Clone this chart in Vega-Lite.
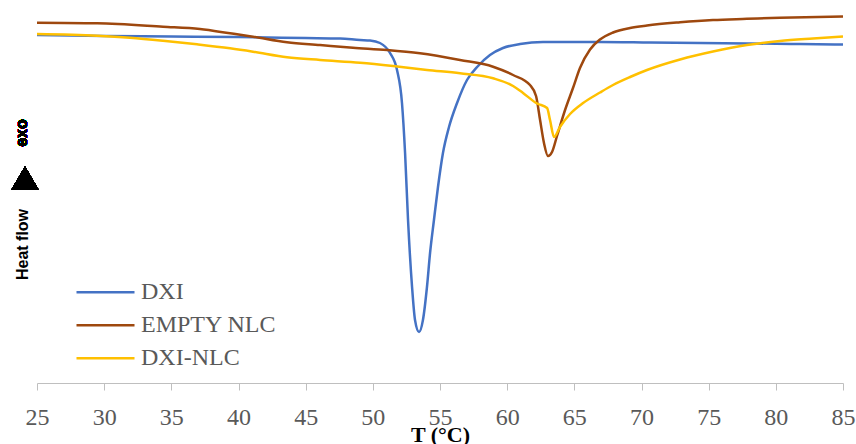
{
  "$schema": "https://vega.github.io/schema/vega-lite/v6.json",
  "width": 806,
  "height": 373,
  "autosize": {"type": "none"},
  "padding": {"left": 37, "top": 10, "right": 13, "bottom": 61},
  "background": "white",
  "config": {"view": {"stroke": null}},
  "data": {"values": [
    {"series": "DXI", "T": 25, "v": 348},
    {"series": "DXI", "T": 30, "v": 347},
    {"series": "DXI", "T": 35, "v": 346.5},
    {"series": "DXI", "T": 40, "v": 346},
    {"series": "DXI", "T": 45, "v": 345},
    {"series": "DXI", "T": 47.56, "v": 344.5},
    {"series": "DXI", "T": 49.05, "v": 343},
    {"series": "DXI", "T": 49.79, "v": 342.5},
    {"series": "DXI", "T": 50.53, "v": 340},
    {"series": "DXI", "T": 51.28, "v": 330},
    {"series": "DXI", "T": 51.8, "v": 313},
    {"series": "DXI", "T": 52.17, "v": 280},
    {"series": "DXI", "T": 52.4, "v": 230},
    {"series": "DXI", "T": 52.62, "v": 163},
    {"series": "DXI", "T": 52.92, "v": 96},
    {"series": "DXI", "T": 53.14, "v": 63},
    {"series": "DXI", "T": 53.44, "v": 51},
    {"series": "DXI", "T": 53.73, "v": 63},
    {"series": "DXI", "T": 54.03, "v": 96},
    {"series": "DXI", "T": 54.26, "v": 130},
    {"series": "DXI", "T": 54.55, "v": 163},
    {"series": "DXI", "T": 54.85, "v": 196},
    {"series": "DXI", "T": 55.22, "v": 230},
    {"series": "DXI", "T": 55.67, "v": 256},
    {"series": "DXI", "T": 56.27, "v": 280},
    {"series": "DXI", "T": 57.01, "v": 303},
    {"series": "DXI", "T": 57.76, "v": 316},
    {"series": "DXI", "T": 58.72, "v": 328},
    {"series": "DXI", "T": 59.69, "v": 335},
    {"series": "DXI", "T": 60.96, "v": 339},
    {"series": "DXI", "T": 62.67, "v": 341},
    {"series": "DXI", "T": 64.9, "v": 341},
    {"series": "DXI", "T": 66.91, "v": 341},
    {"series": "DXI", "T": 70.63, "v": 340.5},
    {"series": "DXI", "T": 74.36, "v": 340},
    {"series": "DXI", "T": 78.08, "v": 339.5},
    {"series": "DXI", "T": 81.8, "v": 339},
    {"series": "DXI", "T": 85, "v": 338.5},

    {"series": "EMPTY NLC", "T": 25, "v": 360.3},
    {"series": "EMPTY NLC", "T": 29.47, "v": 359.7},
    {"series": "EMPTY NLC", "T": 34.38, "v": 356.3},
    {"series": "EMPTY NLC", "T": 37.13, "v": 354},
    {"series": "EMPTY NLC", "T": 39.37, "v": 349.7},
    {"series": "EMPTY NLC", "T": 41.08, "v": 346.3},
    {"series": "EMPTY NLC", "T": 43.61, "v": 340.7},
    {"series": "EMPTY NLC", "T": 46.07, "v": 338},
    {"series": "EMPTY NLC", "T": 48.52, "v": 335.3},
    {"series": "EMPTY NLC", "T": 51.06, "v": 333},
    {"series": "EMPTY NLC", "T": 53.51, "v": 329.7},
    {"series": "EMPTY NLC", "T": 56.49, "v": 323},
    {"series": "EMPTY NLC", "T": 58.95, "v": 316.3},
    {"series": "EMPTY NLC", "T": 60.44, "v": 308},
    {"series": "EMPTY NLC", "T": 61.7, "v": 298},
    {"series": "EMPTY NLC", "T": 62.15, "v": 287},
    {"series": "EMPTY NLC", "T": 62.45, "v": 263},
    {"series": "EMPTY NLC", "T": 62.74, "v": 240},
    {"series": "EMPTY NLC", "T": 63.04, "v": 227},
    {"series": "EMPTY NLC", "T": 63.34, "v": 231},
    {"series": "EMPTY NLC", "T": 63.71, "v": 247},
    {"series": "EMPTY NLC", "T": 64.31, "v": 273},
    {"series": "EMPTY NLC", "T": 64.9, "v": 295},
    {"series": "EMPTY NLC", "T": 65.42, "v": 315},
    {"series": "EMPTY NLC", "T": 66.17, "v": 333.5},
    {"series": "EMPTY NLC", "T": 66.91, "v": 343.5},
    {"series": "EMPTY NLC", "T": 67.88, "v": 350.5},
    {"series": "EMPTY NLC", "T": 69.15, "v": 355},
    {"series": "EMPTY NLC", "T": 70.41, "v": 357.5},
    {"series": "EMPTY NLC", "T": 72.87, "v": 360.7},
    {"series": "EMPTY NLC", "T": 75.32, "v": 363},
    {"series": "EMPTY NLC", "T": 77.85, "v": 364.2},
    {"series": "EMPTY NLC", "T": 80.31, "v": 365.3},
    {"series": "EMPTY NLC", "T": 85, "v": 366.5},

    {"series": "DXI-NLC", "T": 25, "v": 349},
    {"series": "DXI-NLC", "T": 29.47, "v": 347.3},
    {"series": "DXI-NLC", "T": 31.92, "v": 345.3},
    {"series": "DXI-NLC", "T": 34.38, "v": 342.3},
    {"series": "DXI-NLC", "T": 36.91, "v": 338.7},
    {"series": "DXI-NLC", "T": 39.37, "v": 334.7},
    {"series": "DXI-NLC", "T": 41.08, "v": 331.3},
    {"series": "DXI-NLC", "T": 43.61, "v": 325.7},
    {"series": "DXI-NLC", "T": 46.07, "v": 323},
    {"series": "DXI-NLC", "T": 49.05, "v": 320.3},
    {"series": "DXI-NLC", "T": 51.5, "v": 317},
    {"series": "DXI-NLC", "T": 54.03, "v": 313},
    {"series": "DXI-NLC", "T": 56.49, "v": 309.7},
    {"series": "DXI-NLC", "T": 58.95, "v": 304.7},
    {"series": "DXI-NLC", "T": 60.44, "v": 297},
    {"series": "DXI-NLC", "T": 61.18, "v": 290},
    {"series": "DXI-NLC", "T": 62.22, "v": 279.5},
    {"series": "DXI-NLC", "T": 62.97, "v": 275},
    {"series": "DXI-NLC", "T": 63.19, "v": 263},
    {"series": "DXI-NLC", "T": 63.49, "v": 246},
    {"series": "DXI-NLC", "T": 63.93, "v": 256},
    {"series": "DXI-NLC", "T": 64.68, "v": 269},
    {"series": "DXI-NLC", "T": 65.65, "v": 280},
    {"series": "DXI-NLC", "T": 66.91, "v": 290.5},
    {"series": "DXI-NLC", "T": 67.88, "v": 298},
    {"series": "DXI-NLC", "T": 69.15, "v": 306},
    {"series": "DXI-NLC", "T": 70.41, "v": 313},
    {"series": "DXI-NLC", "T": 72.87, "v": 323.5},
    {"series": "DXI-NLC", "T": 75.32, "v": 331.5},
    {"series": "DXI-NLC", "T": 77.85, "v": 338},
    {"series": "DXI-NLC", "T": 80.31, "v": 342},
    {"series": "DXI-NLC", "T": 82.77, "v": 344.5},
    {"series": "DXI-NLC", "T": 85, "v": 346.5}
  ]},
  "layer": [
    {
      "mark": {"type": "line", "strokeWidth": 2.5, "interpolate": "monotone"},
      "encoding": {
        "x": {
          "field": "T", "type": "quantitative",
          "scale": {"domain": [25, 85], "nice": false, "zero": false},
          "axis": {
            "values": [25, 30, 35, 40, 45, 50, 55, 60, 65, 70, 75, 80, 85],
            "title": "T (°C)", "grid": false,
            "domainColor": "#bfbfbf", "tickColor": "#bfbfbf", "tickSize": 7,
            "labelFont": "Liberation Serif", "labelFontSize": 24, "labelColor": "#595959",
            "labelPadding": 15, "labelFlush": false, "labelOverlap": false,
            "titleFont": "Liberation Serif", "titleFontSize": 22, "titleFontWeight": "bold",
            "titleColor": "#000000", "titlePadding": -5
          }
        },
        "y": {
          "field": "v", "type": "quantitative",
          "scale": {"domain": [0, 373], "nice": false, "zero": false},
          "axis": {
            "title": "Heat flow", "domain": false, "ticks": false, "labels": false, "grid": false,
            "titleFont": "Liberation Sans", "titleFontSize": 16, "titleFontWeight": "bold",
            "titleColor": "#000000", "titleAngle": 270, "titleBaseline": "alphabetic",
            "titleAlign": "center", "titleX": -10, "titleY": 234
          }
        },
        "color": {
          "field": "series", "type": "nominal",
          "scale": {"domain": ["DXI", "EMPTY NLC", "DXI-NLC"], "range": ["#4472C4", "#9E480E", "#FFC000"]},
          "legend": {
            "title": null, "orient": "none", "legendX": 38, "legendY": 266,
            "symbolType": "stroke", "symbolSize": 3364, "symbolStrokeWidth": 2.5,
            "labelFont": "Liberation Serif", "labelFontSize": 24, "labelColor": "#595959",
            "labelOffset": 5, "clipHeight": 32.5, "rowPadding": 0, "padding": 0
          }
        }
      }
    },
    {
      "mark": {"type": "point", "shape": "triangle-up", "filled": true, "color": "#000000", "opacity": 1, "size": 720},
      "encoding": {
        "x": {"datum": 24.107, "type": "quantitative"},
        "y": {"datum": 205, "type": "quantitative"}
      }
    },
    {
      "mark": {"type": "text", "angle": 270, "font": "Liberation Sans", "fontSize": 16, "fontWeight": "bold", "color": "#000000", "baseline": "alphabetic", "align": "center"},
      "encoding": {
        "x": {"datum": 24.256, "type": "quantitative"},
        "y": {"datum": 250, "type": "quantitative"},
        "text": {"value": "exo"}
      }
    }
  ]
}
